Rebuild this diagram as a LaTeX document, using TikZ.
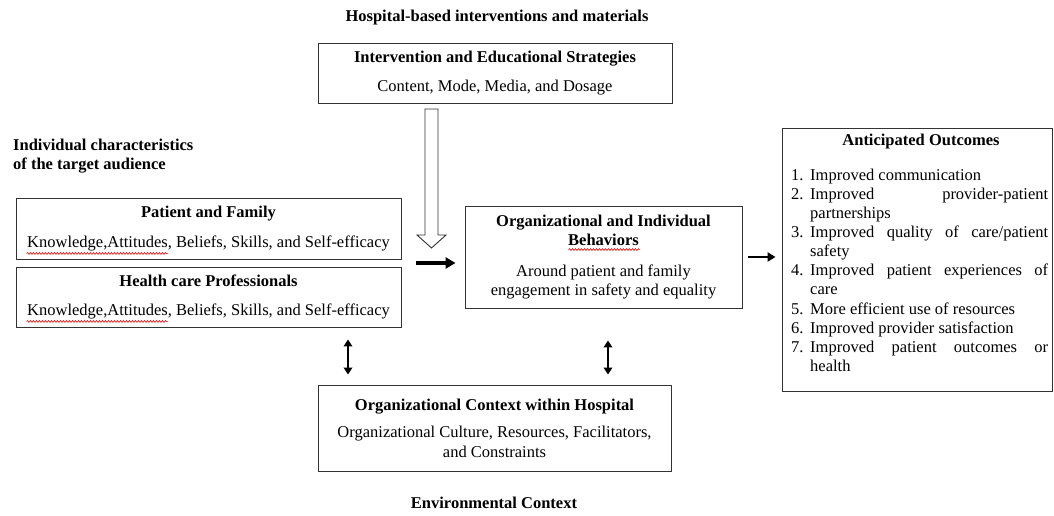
\documentclass[tikz,border=0pt]{standalone}
\usepackage{fontspec}
\setmainfont{Liberation Serif}
\usetikzlibrary{arrows.meta,calc,decorations.pathmorphing}
\newcommand\outitem[2]{\par\noindent\hangindent=19pt\hangafter=1\makebox[19pt][l]{#1}#2}
\begin{document}
\begin{tikzpicture}[x=1pt,y=-1pt,
  every node/.style={font=\fontsize{16.5}{19.5}\selectfont, inner sep=0pt},
  box/.style={draw=black!80, line width=0.9pt, align=center, inner sep=0pt},
  lbl/.style={font=\fontsize{16.5}{19.5}\selectfont\bfseries},
  solidarrow/.style={line width=3.2pt, -{Triangle[length=10pt,width=11pt]}},
  thinarrow/.style={line width=2.4pt, -{Triangle[length=8pt,width=9pt]}},
  dbl/.style={line width=2.2pt, {Triangle[length=7pt,width=8.5pt]}-{Triangle[length=7pt,width=8.5pt]}},
  wave/.style={red!85!black, line width=0.6pt, decorate, decoration={snake, amplitude=0.9pt, segment length=3pt}}]
\useasboundingbox (0,0) rectangle (1054,516);

% labels
\node[lbl] (hosp) at (497,18) {Hospital-based interventions and materials};
\node[lbl, anchor=north west, align=left, font=\fontsize{16.5}{18.5}\selectfont\bfseries] (indiv) at (13,139) {Individual characteristics\\of the target audience};
\node[lbl] (env) at (494,503) {Environmental Context};

% boxes
\node[box, minimum width=354pt, minimum height=60pt] (inter) at (495,73)
  {\textbf{Intervention and Educational Strategies}\\[9pt] Content, Mode, Media, and Dosage};
\node[box, minimum width=385pt, minimum height=61pt] (pf) at (208.5,228.5)
  {\textbf{Patient and Family}\\[10pt] Knowledge,Attitudes, Beliefs, Skills, and Self-efficacy};
\node[box, minimum width=385pt, minimum height=60pt] (hc) at (208.5,297)
  {\textbf{Health care Professionals}\\[10pt] Knowledge,Attitudes, Beliefs, Skills, and Self-efficacy};
\node[box, minimum width=277pt, minimum height=102pt] (mid) at (603.5,257)
  {\textbf{Organizational and Individual}\\ \textbf{Behaviors}\\[11pt] Around patient and family\\ engagement in safety and equality};
\node[box, minimum width=353pt, minimum height=86pt] (ctx) at (494.5,428)
  {\textbf{Organizational Context within Hospital}\\[8pt] Organizational Culture, Resources, Facilitators,\\ and Constraints};
\node[box, minimum width=270pt, minimum height=263pt] (out) at (917,259.5) {};

% outcomes content
\node[lbl] (outtitle) at (921,142) {Anticipated Outcomes};
\node[anchor=north west, text width=257pt, align=justify, font=\fontsize{16.5}{19.1}\selectfont] (outlist) at (791,161) {%
\outitem{1.}{Improved communication}
\outitem{2.}{Improved\hfill provider-patient\newline partnerships}
\outitem{3.}{Improved\hfill quality\hfill of\hfill care/patient\newline safety}
\outitem{4.}{Improved\hfill patient\hfill experiences\hfill of\newline care}
\outitem{5.}{More efficient use of resources}
\outitem{6.}{Improved provider satisfaction}
\outitem{7.}{Improved\hfill patient\hfill outcomes\hfill or\newline health}\par};

% spell-check squiggles
\draw[wave] ($(pf.south west)+(11,-6)$) -- ++(141,0);
\draw[wave] ($(hc.south west)+(11,-6)$) -- ++(141,0);
\draw[wave] ($(mid.north)+(-35,44)$) -- ++(71,0);

% hollow block arrow
\draw[draw=black!80, line width=0.9pt, fill=white]
  (425,109) -- (438,109) -- (438,235) -- (446,235) -- (431.5,248) -- (417,235) -- (425,235) -- cycle;

% connectors
\coordinate (lmid) at ($(pf.south east)!0.5!(hc.north east)$);
\draw[solidarrow, shorten <=15pt, shorten >=9pt] (lmid) -- (lmid -| mid.west);
\draw[thinarrow, shorten <=6pt, shorten >=6pt] (mid.east) -- (mid.east -| out.west);
\coordinate (dl) at (348,0);
\coordinate (dr) at (608,0);
\draw[dbl, shorten <=12pt, shorten >=10pt] (hc.south -| dl) -- (ctx.north -| dl);
\draw[dbl, shorten <=32pt, shorten >=10pt] (mid.south -| dr) -- (ctx.north -| dr);
\end{tikzpicture}
\end{document}
